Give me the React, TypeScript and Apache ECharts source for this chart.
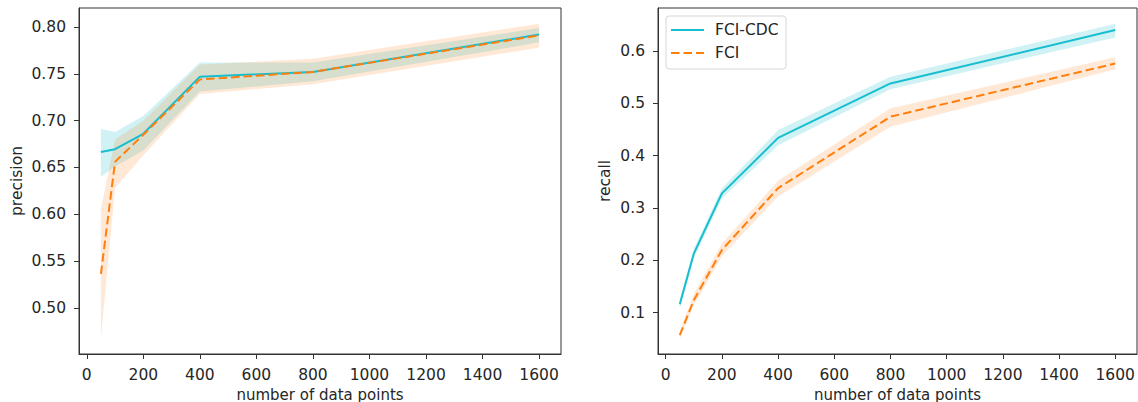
import React, { useEffect, useRef } from "react";
import * as echarts from "echarts";

const xValues = [50, 100, 200, 400, 800, 1600];
const xTicks = [0, 200, 400, 600, 800, 1000, 1200, 1400, 1600];

const precisionCDC = [0.6666, 0.6695, 0.686, 0.747, 0.752, 0.792];
const precisionCDCLow = [0.640, 0.651, 0.668, 0.731, 0.742, 0.7836];
const precisionCDCHigh = [0.691, 0.688, 0.705, 0.762, 0.762, 0.799];
const precisionFCI = [0.5363, 0.656, 0.685, 0.744, 0.752, 0.791];
const precisionFCILow = [0.467, 0.628, 0.663, 0.7285, 0.739, 0.778];
const precisionFCIHigh = [0.6057, 0.680, 0.700, 0.760, 0.766, 0.8035];
const precisionTicks = [0.5, 0.55, 0.6, 0.65, 0.7, 0.75, 0.8];

const recallCDC = [0.116, 0.213, 0.328, 0.434, 0.538, 0.640];
const recallCDCLow = [0.108, 0.204, 0.318, 0.420, 0.527, 0.626];
const recallCDCHigh = [0.124, 0.222, 0.338, 0.449, 0.551, 0.652];
const recallFCI = [0.057, 0.124, 0.220, 0.338, 0.4745, 0.576];
const recallFCILow = [0.050, 0.114, 0.208, 0.322, 0.4553, 0.565];
const recallFCIHigh = [0.064, 0.136, 0.232, 0.352, 0.4905, 0.588];
const recallTicks = [0.1, 0.2, 0.3, 0.4, 0.5, 0.6];

const legendNames = ["FCI-CDC", "FCI"];

const CYAN = "#17becf";
const ORANGE = "#ff7f0e";
const TEXT = "#262626";
const FONT = "DejaVu Sans";
const FS = 15.5;
const DASH = [8.5, 4];

function band(idx: number, xs: number[], lo: number[], hi: number[], fill: string) {
  return {
    type: "custom",
    xAxisIndex: idx,
    yAxisIndex: idx,
    silent: true,
    z: 1,
    data: [[xs[0], lo[0]]],
    renderItem: (_params: any, api: any) => {
      const pts: number[][] = [];
      for (let i = 0; i < xs.length; i++) pts.push(api.coord([xs[i], hi[i]]));
      for (let i = xs.length - 1; i >= 0; i--) pts.push(api.coord([xs[i], lo[i]]));
      return { type: "polygon", shape: { points: pts }, style: { fill } };
    },
  };
}

function line(idx: number, name: string, xs: number[], ys: number[], color: string, dashed: boolean) {
  return {
    type: "line",
    name,
    xAxisIndex: idx,
    yAxisIndex: idx,
    data: xs.map((x, i) => [x, ys[i]]),
    showSymbol: false,
    symbol: "none",
    z: 3,
    itemStyle: { color },
    lineStyle: { color, width: 2, type: dashed ? DASH : "solid" },
  };
}

const axisCommon = {
  axisLine: { show: true, onZero: false, lineStyle: { color: "#333", width: 1 } },
  axisTick: { show: true, inside: false, length: 5, lineStyle: { color: "#333", width: 1 } },
  splitLine: { show: false },
  nameTextStyle: { color: TEXT, fontFamily: FONT, fontSize: FS },
};

function xAxis(idx: number) {
  return {
    type: "value",
    gridIndex: idx,
    min: -27.5,
    max: 1677.5,
    name: "number of data points",
    nameLocation: "middle",
    nameGap: 32,
    ...axisCommon,
    nameTextStyle: { color: TEXT, fontFamily: FONT, fontSize: 15, lineHeight: 15 },
    axisTick: { ...axisCommon.axisTick, customValues: xTicks },
    axisLabel: {
      customValues: xTicks,
      color: TEXT,
      fontFamily: FONT,
      fontSize: FS,
      margin: 13,
      formatter: (v: number) => String(v),
    },
  };
}

function yAxis(idx: number, name: string, min: number, max: number, ticks: number[], digits: number, gap: number) {
  return {
    type: "value",
    gridIndex: idx,
    min,
    max,
    name,
    nameLocation: "middle",
    nameGap: gap,
    ...axisCommon,
    axisTick: { ...axisCommon.axisTick, customValues: ticks },
    axisLabel: {
      customValues: ticks,
      color: TEXT,
      fontFamily: FONT,
      fontSize: FS,
      margin: 13,
      formatter: (v: number) => v.toFixed(digits),
    },
  };
}

export default function App() {
  const ref = useRef<HTMLDivElement>(null);
  useEffect(() => {
    if (!ref.current) return;
    const chart = echarts.init(ref.current, undefined, { renderer: "svg" });
    const legendRows = [30, 53];
    const legendGraphic: any[] = [
      {
        type: "rect",
        shape: { x: 666, y: 16, width: 120, height: 53, r: 3 },
        style: { fill: "rgba(255,255,255,0.8)", stroke: "#d6d6d6", lineWidth: 1 },
        z: 10,
      },
    ];
    legendNames.forEach((n, i) => {
      legendGraphic.push({
        type: "line",
        shape: { x1: 671, y1: legendRows[i], x2: 704, y2: legendRows[i] },
        style: { stroke: i === 0 ? CYAN : ORANGE, lineWidth: 2, lineDash: i === 0 ? null : DASH },
        z: 11,
      });
      legendGraphic.push({
        type: "text",
        x: 715,
        y: legendRows[i],
        style: {
          text: n,
          fill: TEXT,
          font: `${FS}px "${FONT}"`,
          verticalAlign: "middle",
          align: "left",
        },
        z: 11,
      });
    });
    const gridCommon = {
      top: 8,
      height: 346,
      show: true,
      borderColor: "#333",
      borderWidth: 1,
      backgroundColor: "transparent",
      containLabel: false,
      outerBoundsMode: "none",
    };
    chart.setOption({
      animation: false,
      backgroundColor: "#ffffff",
      grid: [
        { ...gridCommon, left: 79, width: 482 },
        { ...gridCommon, left: 658, width: 479 },
      ],
      xAxis: [xAxis(0), xAxis(1)],
      yAxis: [
        yAxis(0, "precision", 0.4508, 0.8203, precisionTicks, 2, 54),
        yAxis(1, "recall", 0.0211, 0.6822, recallTicks, 1, 45),
      ],
      graphic: legendGraphic,
      series: [
        band(0, xValues, precisionCDCLow, precisionCDCHigh, "rgba(23,190,207,0.2)"),
        band(0, xValues, precisionFCILow, precisionFCIHigh, "rgba(255,127,14,0.17)"),
        line(0, legendNames[0], xValues, precisionCDC, CYAN, false),
        line(0, legendNames[1], xValues, precisionFCI, ORANGE, true),
        band(1, xValues, recallCDCLow, recallCDCHigh, "rgba(23,190,207,0.2)"),
        band(1, xValues, recallFCILow, recallFCIHigh, "rgba(255,127,14,0.17)"),
        line(1, legendNames[0], xValues, recallCDC, CYAN, false),
        line(1, legendNames[1], xValues, recallFCI, ORANGE, true),
      ],
    });
    return () => chart.dispose();
  }, []);
  return (
    <div
      ref={ref}
      style={{ position: "fixed", left: 0, top: 0, width: 1138, height: 402, background: "#fff" }}
    />
  );
}
